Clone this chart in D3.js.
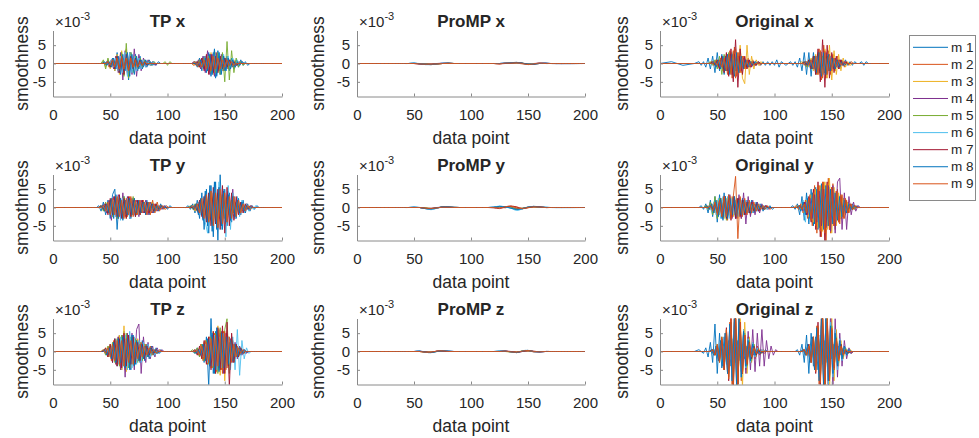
<!DOCTYPE html>
<html>
<head>
<meta charset="utf-8">
<script src="https://cdn.jsdelivr.net/npm/d3@7"></script>
<style>
  body { margin: 0; background: #fff; }
  svg text { font-family: "Liberation Sans", Arial, Helvetica, sans-serif; fill: #262626; }
</style>
</head>
<body>
<svg id="fig" width="979" height="438"></svg>
<script>
// Data point positions at which the TP / Original smoothness traces are sampled:
// m1, m3, m5, m7, m9 on even data points, m2, m4, m6, m8 on odd ones
const samplePtsEven = [0,10,20,30,34,
  36,38,40,42,44,46,48,50,52,54,56,58,60,62,64,66,68,70,72,74,76,78,80,82,84,86,88,90,92,94,96,98,100,102,104,106,
  110,114,
  116,118,120,122,124,126,128,130,132,134,136,138,140,142,144,146,148,150,152,154,156,158,160,162,164,166,168,170,172,174,176,178,180,182,184,186,
  192,200];
const samplePtsOdd = [0,11,21,31,35,
  37,39,41,43,45,47,49,51,53,55,57,59,61,63,65,67,69,71,73,75,77,79,81,83,85,87,89,91,93,95,97,99,101,103,105,107,
  111,115,
  117,119,121,123,125,127,129,131,133,135,137,139,141,143,145,147,149,151,153,155,157,159,161,163,165,167,169,171,173,175,177,179,181,183,185,187,
  193,200];
// Data point positions for the (smooth) ProMP traces
const promPts = [0,40,45,50,55,60,65,70,75,80,85,90,95,100,105,110,115,120,125,130,135,140,145,150,155,160,165,170,200];

const xTicks = [0, 50, 100, 150, 200];
const yTicks = [-5, 0, 5];
const seriesNames = ["m 1","m 2","m 3","m 4","m 5","m 6","m 7","m 8","m 9"];

// smoothness values, in units of 1e-3, one row per demonstration m1..m9
const tpX = [
  [0,0,0,0,0, 0,0,0,0,.5,-.5,1,-1,1.5,-2, 3,-2,2,-3,3.5,-4.5,3,-2,2.5,-2, 2,-1.5,1,-1,1,-.5,.5,-.5,.5,0, 0,0,0,0,0,0, 0,0, 0,0,0,0,.5,-1,1.5,-2,2,-2.5, 3,-3.5,3,-4,3.5,-3,2.5,-2,2,-2, 1.5,-1.5,1,-1,1,-.5,.5,-.5,0,0, 0,0,0,0,0,0, 0,0],
  [0,0,0,0,0, 0,0,0,0,0,.5,-1,1,-1.5,2, -2,2.5,-3,2,-2.5,3,-2,2,-1.5,1.5, -1,1,-.5,.5,-.5,.5,0,0,0,0, 0,0,0,0,0,0, 0,0, 0,0,0,-.5,.5,-1,1,-1.5,2,-2, 2.5,-2,3,-2.5,2,-2.5,2,-1.5,1.5,-1, 1,-1,.5,-.5,.5,0,0,0,0,0, 0,0,0,0,0,0, 0,0],
  [0,0,0,0,0, 0,0,0,0,.5,-1,1,-1.5,1,-2, 2.5,-3,3.5,-2.5,4,-3,2,-2,1.5,-1, 1,-1,.5,-.5,.5,0,0,0,0,0, 0,0,0,0,0,0, 0,0, 0,0,0,0,-.5,.5,-1,1.5,-1.5,2, -2.5,3,-3,3,-2.5,2,-2,1.5,-1.5,1, -1,1,-.5,.5,0,0,0,0,0,0, 0,0,0,0,0,0, 0,0],
  [0,0,0,0,0, 0,0,0,0,0,.5,-.5,1,-1.5,2, -2.5,3,-4.5,3.5,-3,2.5,-3,4,-3.5,2.5, -2,1.5,-1,1,-.5,.5,-.5,0,0,0, 0,0,0,0,0,0, 0,0, 0,0,0,.5,-.5,1,-1.5,2,-2.5,3.5, -3,2.5,-3.5,3,-2,2.5,-2,1.5,-1.5,1, -1,.5,-.5,.5,0,0,0,0,0,0, 0,0,0,0,0,0, 0,0],
  [0,0,0,0,0, 0,0,0,0,1,-1.5,1.5,-1,1,-1.5, 2,-2.5,3,-3.5,5.5,-4,3,-2.5,2,-1.5, 1.5,-1,1,-.5,.5,-.5,.5,0,0,0, 0,.5,-.5,.5,0,0, 0,0, 0,0,0,0,.5,-.5,1,-1,1.5,-1.5, 2,-2.5,2,-2.5,3,-3,3,-5,6,-4.5, 3.5,-2.5,1.5,-1,.5,-.5,0,0,0,0, 0,0,0,0,0,0, 0,0],
  [0,0,0,0,0, 0,0,0,0,0,.5,-.5,1,-1,1.5, -2,2,-2.5,3,-3.5,3,-2.5,2,-2,1.5, -1.5,1,-1,.5,-.5,.5,0,0,0,0, 0,0,0,0,0,0, 0,0, 0,0,0,0,.5,-.5,1,-1.5,2,-2, 2.5,-3,3.5,-3,3,-2.5,2.5,-2,2,-1.5, 1.5,-1,1,-.5,.5,0,0,0,0,0, 0,0,0,0,0,0, 0,0],
  [0,0,0,0,0, 0,0,0,0,0,0,.5,-1,1,-1.5, 2,-2.5,2,-3,2.5,-2,2,-1.5,1.5,-1, 1,-.5,.5,-.5,0,0,0,0,0,0, 0,0,0,0,0,0, 0,0, 0,0,0,0,0,.5,-1,1.5,-2,2.5, -3,2.5,-2.5,2,-2.5,2,-1.5,1.5,-1,1, -.5,.5,-.5,0,0,0,0,0,0,0, 0,0,0,0,0,0, 0,0],
  [0,0,0,0,0, 0,0,0,0,.5,-.5,.5,-1,1.5,-1.5, 2,-3,2.5,-2,3,-3.5,2.5,-3,2,-1.5, 1,-1,1,-.5,.5,-.5,0,0,0,0, 0,0,0,0,0,0, 0,0, 0,0,0,0,0,-.5,1,-1,1.5,-2, 2.5,-3,4,-3.5,3,-3,2,-2,1.5,-1.5, 1,-1,.5,-.5,.5,0,0,0,0,0, 0,0,0,0,0,0, 0,0],
  [0,0,0,0,0, 0,0,0,0,0,0,.5,-.5,1,-1, 1.5,-1.5,2,-1.5,1.5,-2,1.5,-1,1,-1, .5,-.5,.5,0,0,0,0,0,0,0, 0,0,0,0,0,0, 0,0, 0,0,0,0,.5,-.5,.5,-1,1,-1.5, 1.5,-2,2,-1.5,1.5,-1.5,1,-1,1,-.5, .5,-.5,0,0,0,0,0,0,0,0, 0,0,0,0,0,0, 0,0]
];

const tpY = [
  [0,0,0,0,0, 0,0,.5,-1,1.5,-2,2,-3,3.5,5, -6,3,-2.5,3,-2,2.5,-3,2,-2.5,2, -2,2,-1.5,2,-2,1.5,-1.5,1,-1,1, -.5,.5,-.5,.5,0,0, 0,0, 0,.5,-.5,1,-1.5,2,-3,4,-6,5, -7,6,-8,7,-9,9,-6,5,-5,4, -4,3,-3,2.5,-2,2,-1.5,1,-1,.5, -.5,.5,0,0,0,0, 0,0],
  [0,0,0,0,0, 0,0,0,.5,-1,1,-1.5,2,-2,2.5, -3,2.5,-3,2,-2.5,3,-2,2.5,-2,2, -1.5,2,-2,1.5,-2,2,-1.5,1.5,-1,.5, -.5,.5,0,0,0,0, 0,0, 0,0,.5,-.5,1,-1.5,2,-2.5,3,-3.5, 4,-4.5,5,-4,5.5,-5,4,-4.5,3.5,-3, 3,-2.5,2,-2,1.5,-1,1,-.5,.5,0, 0,0,0,0,0,0, 0,0],
  [0,0,0,0,0, 0,0,0,.5,-.5,1,-1.5,1.5,-2,2, -2.5,3,-2,2.5,-3,2,-2,2.5,-2,1.5, -2,1.5,-1.5,1,-1.5,1.5,-1,1,-.5,.5, 0,0,0,0,0,0, 0,0, 0,0,0,.5,-1,1,-1.5,2,-2.5,3, -3.5,4,-4,3.5,-4.5,4,-3.5,3,-3,2.5, -2,2,-1.5,1.5,-1,1,-.5,.5,0,0, 0,0,0,0,0,0, 0,0],
  [0,0,0,0,0, 0,0,0,0,1,-1.5,2,-3.5,3,-2.5, 3.5,-3,4,-2.5,3,-3,2.5,-2,2,-2.5, 2,-1.5,2,-2,1.5,-1.5,1,-1,.5,-.5, .5,0,0,0,0,0, 0,0, 0,0,0,-.5,1,-1.5,2,-3,3.5,-4, 4.5,-4,5,-5.5,4.5,-4,5,-4,4.5,-3.5, 5,-3,2.5,-2,1.5,-1.5,1,-.5,.5,0, 0,0,0,0,0,0, 0,0],
  [0,0,0,0,0, 0,0,0,.5,-1,1.5,-1.5,2,-2.5,3, -3,2.5,-2,3,-2.5,2,-2.5,3,-2,1.5, -1.5,1.5,-1,1.5,-1,1,-.5,.5,-.5,.5, 0,0,0,0,0,0, 0,0, 0,0,.5,-.5,1,-1,1.5,-2,2.5,-3, 3,-3.5,4,-3.5,4,-3,3.5,-3,2.5,-2, 2,-1.5,1.5,-1,1,-.5,.5,0,0,0, 0,0,0,0,0,0, 0,0],
  [0,0,0,0,0, 0,0,0,0,.5,-1,1.5,-2,2,-2.5, 3,-3.5,2.5,-2,2.5,-3,2,-2,1.5,-2, 1.5,-1,1.5,-1,1,-1,.5,-.5,.5,0, 0,0,0,0,0,0, 0,0, 0,0,0,.5,-.5,1.5,-2,3,-4,-7, 5,-4,6,-5,7,-6,5,-8,6,-6, 4,-3,3,-2.5,2,-1.5,1,-1,.5,-.5, .5,0,0,0,0,0, 0,0],
  [0,0,0,0,0, 0,0,0,.5,-.5,1,-2,2.5,-2,3, -2.5,3.5,-3,2.5,-3,3,-2.5,2,-2.5,2, -2,2,-1.5,1.5,-1.5,1,-1,1,-.5,.5, 0,0,0,0,0,0, 0,0, 0,0,0,0,.5,-1,2,-2.5,3,-4, 4,-5,5.5,-4.5,5,-6,6,-7,5.5,-5, 4,-3.5,3,-2,1.5,-1.5,1,-.5,.5,0, 0,0,0,0,0,0, 0,0],
  [0,0,0,0,0, 0,0,0,.5,-1,1,-1.5,2.5,-3,3.5, -3,2.5,-3.5,2,-2,2.5,-2,2.5,-1.5,2, -1.5,1.5,-2,1.5,-1,1,-1,.5,-.5,.5, 0,0,0,0,0,0, 0,0, 0,0,.5,-.5,1,-2,2.5,-3.5,4.5,-5, 6,-6.5,7,-6,5.5,-5,4.5,-4,3.5,-3.5, 3,-2.5,2,-1.5,1.5,-1,.5,-.5,0,0, 0,0,0,0,0,0, 0,0],
  [0,0,0,0,0, 0,0,0,0,.5,-1,1.5,-2,2.5,-2, 3,-2.5,2,-3,2.5,-2,3,-2.5,2,-2, 2,-1.5,1.5,-2,1.5,-1.5,1,-1,.5,-.5, .5,-.5,0,0,0,0, 0,0, 0,0,0,.5,-.5,1,-1.5,2.5,-3,3.5, -4,4.5,-5,4,-5.5,5,-4.5,4,-4,3, -3,3,-2.5,2,-1.5,1,-1,.5,-.5,0, 0,0,0,0,0,0, 0,0]
];

const tpZ = [
  [0,0,0,0,0, 0,0,0,0,0,.5,-1.5,2,-3,3.5, -4,4.5,-5,5.5,-4.5,4,-5,4.5,-3.5,3, -3,3,-2.5,2,-2,1.5,-1,1,-.5,.5, 0,0,0,0,0,0, 0,0, 0,0,0,0,-.5,1,-1.5,2,-3,4, -9.5,9.5,-6,5.5,-5,4.5,-4,3.5,-3,2.5, -2.5,2,-1.5,1,-1,.5,-.5,0,0,0, 0,0,0,0,0,0, 0,0],
  [0,0,0,0,0, 0,0,0,0,.5,-1,1.5,-2.5,3,-3.5, 4,-4.5,4,-5,4.5,-4,3.5,-4,3,-2.5, 2.5,-2,2,-1.5,1.5,-1,.5,-.5,.5,0, 0,0,0,0,0,0, 0,0, 0,0,0,0,.5,-1,2,-2.5,3,-3.5, 4,-4.5,5,-5.5,6,-5,5.5,-5,4,-3.5, 3,-2,1.5,-1,.5,-.5,0,0,0,0, 0,0,0,0,0,0, 0,0],
  [0,0,0,0,0, 0,0,0,0,0,1,-1.5,2,-2.5,3, -3.5,4.5,-5,7,-5.5,4,-4.5,3.5,-3,3.5, -2.5,2,-2,1.5,-1,1,-.5,.5,0,0, 0,0,0,0,0,0, 0,0, 0,0,0,0,.5,-.5,1,-2,2.5,-3, 4,-4.5,5.5,-6,7,-6.5,6,-8,5,-4, 3.5,-2.5,2,-1.5,1,-.5,0,0,0,0, 0,0,0,0,0,0, 0,0],
  [0,0,0,0,0, 0,0,0,0,.5,-.5,1,-2,2.5,-3.5, 4,-5,4.5,-7,5,-4.5,5,-5,6,7.5, -6,4,-3,2.5,-2,1.5,-1.5,1,-.5,.5, 0,0,0,0,0,0, 0,0, 0,0,0,0,0,.5,-1,1.5,-2.5,3, -4,4.5,-5,5,-4.5,5.5,-6,5,-4,3.5, -3,2.5,-2,1.5,-1,.5,-.5,0,0,0, 0,0,0,0,0,0, 0,0],
  [0,0,0,0,0, 0,0,0,0,.5,-1,1.5,-1.5,2.5,-3, 3.5,-4,4.5,-4,5,-4.5,4,-3.5,3.5,-3, 2.5,-2.5,2,-1.5,1,-1,.5,-.5,0,0, 0,0,0,0,0,0, 0,0, 0,0,0,.5,-.5,1,-1.5,2,-2.5,3, -3.5,4,-4.5,5,-6,6.5,-5,6,9,-6, 4,-3,2,-1.5,1,-.5,0,0,0,0, 0,0,0,0,0,0, 0,0],
  [0,0,0,0,0, 0,0,0,0,0,.5,-1,1.5,-2,3, -3.5,4,-4,4.5,-5,5.5,-4.5,4,-3.5,3, -3,2.5,-2,2,-1.5,1,-1,.5,-.5,0, 0,0,0,0,0,0, 0,0, 0,0,0,0,.5,-.5,1,-1.5,2,-3, 3.5,-4,4.5,-5,4,-4.5,5,-4.5,4,-5, 4,-5,6,-6.5,3,-2,1,-.5,0,0, 0,0,0,0,0,0, 0,0],
  [0,0,0,0,0, 0,0,0,0,0,1,-1.5,2,-3,3.5, -4,3.5,-4.5,5,-4,4.5,-3.5,4,-3,2.5, -2.5,2,-2,1.5,-1,1,-.5,.5,0,0, 0,0,0,0,0,0, 0,0, 0,0,0,0,.5,-1,1.5,-2,3,-3.5, 4,-5,5.5,-6,6.5,-5,7,-6,8,-9.5, 5,-3,2,-1.5,1,-.5,0,0,0,0, 0,0,0,0,0,0, 0,0],
  [0,0,0,0,0, 0,0,0,0,.5,-1,1,-2,2.5,-3, 3.5,-3,4,-4.5,3.5,-5,4.5,-4,3,-2.5, 2,-2,1.5,-1.5,1,-.5,.5,-.5,0,0, 0,0,0,0,0,0, 0,0, 0,0,0,0,-.5,.5,-1,2,-2.5,3.5, -4,5,-6,6.5,-5.5,5,-4.5,4,-3.5,3, -2.5,2,-1.5,1,-.5,.5,0,0,0,0, 0,0,0,0,0,0, 0,0],
  [0,0,0,0,0, 0,0,0,0,.5,-.5,1,-1.5,2,-2.5, 3,-3.5,3,-4,3.5,-3,3,-3.5,2.5,-2, 2,-1.5,1.5,-1,1,-.5,.5,-.5,0,0, 0,0,0,0,0,0, 0,0, 0,0,0,0,0,.5,-1,1.5,-2,2.5, -3,3.5,-4,4.5,-4,5,-6,5.5,-4.5,4, -3,2,-1.5,1,-.5,.5,0,0,0,0, 0,0,0,0,0,0, 0,0]
];

const origX = [
  [0,.5,-.5,0,.5, -.5,.5,-1,1.5,-1.5,2,-2.5,3,-2,2.5, -3,2,-2.5,2,-1.5,1,-1.5,1,-1,.5, -1,.5,-.5,.5,-.5,.5,-.5,.5,-.5,.5, -.5,.5,-.5,1,-1,.5, -.5,.5, -.5,.5,-1,1.5,-2,3,-3,3,-3.5,3, -3,2.5,-2,2,-2.5,2,-1.5,1.5,-1,1, -1,1,-.5,1,-.5,.5,-.5,.5,0,0, .5,-.5,.5,0,0,0, 0,0],
  [0,0,0,0,0, 0,0,0,0,.5,-.5,1,-1,1.5,-2, 2,-3,3.5,-4,4.5,-3.5,3,-2.5,2,-1.5, 1.5,-1,1,-.5,.5,-.5,0,0,0,0, 0,0,0,0,0,0, 0,0, 0,0,0,0,0,.5,-.5,1,-1.5,2, -3,4,-4.5,5,-4,3.5,-3,2.5,-2,2, -1.5,1,-1,.5,-.5,.5,0,0,0,0, 0,0,0,0,0,0, 0,0],
  [0,0,0,0,0, 0,0,0,0,0,.5,-.5,1,-1.5,1.5, -2,2.5,-3,3,-3.5,4,-3,5,-4,-5.5, 5,-3,2,-1.5,1,-.5,.5,0,0,0, 0,0,0,0,0,0, 0,0, 0,0,0,0,.5,-.5,.5,-1,1.5,-2, 2.5,-3,3.5,-3,4,-4,5,-4.5,3.5,-3, 2.5,-2,1.5,-1,.5,-.5,0,0,0,0, 0,0,0,0,0,0, 0,0],
  [0,0,0,0,0, 0,0,0,0,0,0,.5,-1,1,-1.5, 2,-2,2.5,-3,2.5,-2,2,-2,1.5,-1, 1,-1,.5,-.5,0,0,0,0,0,0, 0,0,0,0,0,0, 0,0, 0,0,0,0,0,-.5,.5,-1,1,-1.5, 2,-2.5,3,-2.5,3,-2,2,-1.5,1.5,-1, 1,-.5,.5,0,0,0,0,0,0,0, 0,0,0,0,0,0, 0,0],
  [0,0,0,0,0, 0,0,0,0,.5,-.5,1,-1.5,2,-3, 2.5,-2,3,-2.5,2,-2,1.5,-1.5,1,-1, .5,-.5,.5,0,0,0,0,0,0,0, 0,0,0,0,0,0, 0,0, 0,0,0,0,0,.5,-1,1,-1.5,2, -2.5,3,-2.5,2,-2.5,2,-2,1.5,-1,1, -.5,.5,0,0,0,0,0,0,0,0, 0,0,0,0,0,0, 0,0],
  [0,0,0,0,0, 0,0,0,0,0,.5,-.5,1,-1,1.5, -2,2.5,-2,3,-2.5,2,-2.5,1.5,-1.5,1, -1,.5,-.5,.5,0,0,0,0,0,0, 0,0,0,0,0,0, 0,0, 0,0,0,0,0,0,.5,-1,1,-1.5, 2,-2.5,3,-3,2.5,-2,2,-1.5,1,-1, .5,-.5,0,0,0,0,0,0,0,0, 0,0,0,0,0,0, 0,0],
  [0,0,0,0,0, 0,0,0,0,0,.5,-.5,1,-1.5,2, -2.5,3,-3.5,4,-5,6.5,-6.5,4,-3,2, -1.5,1,-1,.5,-.5,.5,0,0,0,0, 0,0,0,0,0,0, 0,0, 0,0,0,0,0,.5,-.5,1,-1.5,2, -3,4,-5,6.5,-6.5,5,-4,3,-2.5,2, -1.5,1,-.5,.5,0,0,0,0,0,0, 0,0,0,0,0,0, 0,0],
  [0,0,0,0,0, 0,0,0,0,0,.5,-1,1,-1.5,2, -2,2.5,-3,2.5,-3.5,3,-2.5,2,-1.5,1, -1,.5,-.5,.5,0,0,0,0,0,0, 0,0,0,0,0,0, 0,0, 0,0,0,0,0,.5,-.5,1,-1.5,2, -2.5,3,-3.5,3,-3,2.5,-2,1.5,-1.5,1, -1,.5,-.5,0,0,0,0,0,0,0, 0,0,0,0,0,0, 0,0],
  [0,0,0,0,0, 0,0,0,0,0,0,.5,-.5,1,-1, 1.5,-2,2.5,-3,3.5,-4,3,-2.5,2,-1.5, 1,-1,.5,-.5,0,0,0,0,0,0, 0,0,0,0,0,0, 0,0, 0,0,0,0,0,0,.5,-.5,1,-1.5, 2,-3,3.5,-4,3.5,-3,2.5,-2,1.5,-1, 1,-.5,.5,0,0,0,0,0,0,0, 0,0,0,0,0,0, 0,0]
];

const origY = [
  [0,0,0,0,0, .5,-.5,1,-1.5,2,-2.5,3,-4,3.5,-3, 4,-3,3.5,-2.5,3,-3,2.5,-2,2.5,-2, 2,-1.5,2,-1.5,1.5,-1,1,-1,.5,-.5, .5,-.5,0,0,0,0, 0,0, .5,-.5,1,-2,3,-3.5,4,-4.5,5,-5, 5.5,-6,5,-5.5,6,-5,5.5,-4.5,4,-4, 3.5,-3,2.5,-2,1.5,-1,1,-.5,.5,0, 0,0,0,0,0,0, 0,0],
  [0,0,0,0,0, 0,0,.5,-.5,1,-1,1.5,-2,2.5,-3, 3,-3.5,3,-2.5,3,-2,2.5,-3,2,-2, 1.5,-2,1.5,-1,1,-1,.5,-.5,.5,0, 0,0,0,0,0,0, 0,0, 0,.5,-.5,1,-1.5,2,-3,3.5,-5,6, -7,6,-8,7,-9.5,8,-7,6.5,-6,5, -4.5,3.5,-3,2,-1.5,1,-.5,.5,0,0, 0,0,0,0,0,0, 0,0],
  [0,0,0,0,0, 0,0,0,.5,-.5,1,-1.5,2,-2,2.5, -3,2.5,-2,3,-2.5,2,-3,2.5,-2,1.5, -1.5,1.5,-1,1,-1,.5,-.5,.5,0,0, 0,0,0,0,0,0, 0,0, 0,0,.5,-.5,1,-1.5,2,-2.5,3.5,-4, 5,-5.5,6,-6.5,7,-6,8,-7,5.5,-5, 4,-3,2.5,-2,1.5,-1,.5,-.5,0,0, 0,0,0,0,0,0, 0,0],
  [0,0,0,0,0, 0,0,0,0,.5,-1,1,-1.5,2,-2.5, 3,-2.5,3.5,-3,2.5,-3,3.5,-3,4,-4.5, 3,-2.5,2,-2,1.5,-1.5,1,-.5,.5,-.5, 0,0,0,0,0,0, 0,0, 0,0,0,.5,-1,1.5,-2,2.5,-3,3.5, -4,4.5,-5,5,-5.5,6,-6.5,6,-7,7, 8,-6,4,-6,3,-2,1.5,-1,.5,0, 0,0,0,0,0,0, 0,0],
  [0,0,0,0,0, 0,0,.5,-.5,1.5,-2,3,-3,2.5,-2, 3,-3.5,2.5,-2,2.5,-2,2,-2,1.5,-1.5, 1.5,-1,1,-1,.5,-.5,.5,-.5,0,0, 0,0,0,0,0,0, 0,0, 0,0,0,.5,-.5,1,-1.5,2,-2.5,3, -3.5,4,-4.5,4,-5,4.5,-4,4.5,-3.5,3, -2.5,2,-1.5,1.5,-1,.5,-.5,0,0,0, 0,0,0,0,0,0, 0,0],
  [0,0,0,0,0, 0,0,0,.5,-1,1.5,-2,2.5,-3,3, -2.5,3,-3,2.5,-2,2.5,-2.5,2,-2,2, -1.5,1.5,-1.5,1,-1,1,-.5,.5,-.5,0, 0,0,0,0,0,0, 0,0, 0,0,.5,-1,2,-4,3,-3.5,4,-4.5, 5,-5.5,5,-4.5,5,-4,4.5,-4,3.5,-3, 3,-2.5,2,-1.5,1,-.5,.5,0,0,0, 0,0,0,0,0,0, 0,0],
  [0,0,0,0,0, 0,0,0,0,.5,-.5,1,-1.5,2,-2.5, 3,-3,2.5,-3.5,3,-3,2.5,-2.5,2,-2, 1.5,-1.5,1.5,-1,1,-1,.5,-.5,.5,0, 0,0,0,0,0,0, 0,0, 0,0,0,.5,-.5,1.5,-2,3,-4,5, -6,7,-8,6.5,-10,7,-6,5.5,-5,4.5, -4,3,-2.5,2,-1.5,1,-.5,.5,0,0, 0,0,0,0,0,0, 0,0],
  [0,0,0,0,0, 0,0,.5,-.5,1,-1.5,2,-2.5,2.5,-3.5, 3,-3,2.5,-2,3,-2.5,2,-2,2,-1.5, 1.5,-1.5,1,-1,1,-.5,.5,-.5,0,0, 0,0,0,0,0,0, 0,0, 0,0,.5,-1,1.5,-2,2.5,-3,4,-4.5, 5,-5.5,6.5,-6,6,-5,5,-4.5,4,-3.5, 3,-2.5,2,-1.5,1,-.5,.5,0,0,0, 0,0,0,0,0,0, 0,0],
  [0,0,0,0,0, 0,0,0,0,.5,-1,1.5,-2,2,-2.5, 3,-2.5,3.5,-3,3,8.5,-8.5,3,-2.5,2.5, -2,2,-1.5,1.5,-1,1,-.5,.5,-.5,.5, -.5,0,0,0,0,0, 0,0, 0,0,0,.5,-.5,1,-1.5,2.5,-3.5,4, -5,6,-6.5,7,-7,6.5,-6,5.5,-5,4.5, -4,3.5,-3,2.5,-1.5,1,-.5,.5,0,0, 0,0,0,0,0,0, 0,0]
];

const origZ = [
  [0,0,0,0,.5, 0,-.5,1,-1.5,2.5,-3,7.5,-6,5,-4.5, 4,-3.5,3,-4,3.5,-3,3,-2.5,2,-2, 1.5,-1.5,1,-1,.5,-.5,.5,-.5,.5,0, 0,0,0,0,0,0, 0,0, 0,0,.5,-1,2,-3,4.5,-6,5,-4, 4,-5,4.5,-3.5,3,-3,2.5,-2,2,-1.5, 1.5,-1,1,-.5,.5,-.5,0,0,0,0, 0,0,0,0,0,0, 0,0],
  [0,0,0,0,0, 0,0,0,0,.5,-1,1.5,-2.5,3,-4, 5,-6,8,-10,12,-11,10,-8,6,-5, 4,-3,2.5,-2,1.5,-1,.5,-.5,0,0, 0,0,0,0,0,0, 0,0, 0,0,0,0,.5,-1,1.5,-2.5,3.5,-5, 7,-9,11,-12,10,-9,8,-7,5.5,-4, 3,-2,1.5,-1,.5,-.5,0,0,0,0, 0,0,0,0,0,0, 0,0],
  [0,0,0,0,0, 0,0,0,0,0,.5,-1,1.5,-2,3, -4,5,-6,7,-8,10,-11,12,-10,8, -6,4,-3,2,-1.5,1,-.5,.5,0,0, 0,0,0,0,0,0, 0,0, 0,0,0,0,0,.5,-1,2,-3,4, -5,6,-8,9,-10,11,-12,10,-8,6, -4,3,-2,1,-.5,.5,0,0,0,0, 0,0,0,0,0,0, 0,0],
  [0,0,0,0,0, 0,0,0,0,.5,-.5,1,-2,2.5,-3, 4,-5,6,-7,8,-7,6,-5.5,5,-6, 5.5,-5,6,-5.5,5,-4,6,-4,3,-2, 1.5,-1,.5,0,0,0, 0,0, 0,0,0,0,.5,-.5,1,-2,3,-4, 5,-6,7,-8,9,-10,11,-10,9,-7, 5,-4,3,-2,1,-.5,0,0,0,0, 0,0,0,0,0,0, 0,0],
  [0,0,0,0,0, 0,0,0,0,0,.5,-1,2,-3,4, -5,6,-7,8,-9,10,-9,7,-6,5, -4,3,-2.5,2,-1,.5,-.5,0,0,0, 0,0,0,0,0,0, 0,0, 0,0,0,0,0,.5,-1,1.5,-2.5,3.5, -5,6.5,-8,9.5,-10,9,-8,7,-5,4, -3,2,-1.5,1,-.5,0,0,0,0,0, 0,0,0,0,0,0, 0,0],
  [0,0,0,0,0, 0,0,0,0,.5,-1,1.5,-2,3,-4, 5,-6,7,-8,9,-9,8,-7,6,-4.5, 3.5,-3,2.5,-1.5,1,-.5,.5,0,0,0, 0,0,0,0,0,0, 0,0, 0,0,0,0,.5,-1,1.5,-2.5,3.5,-4.5, 6,-7,8,-9,10,-9,8,-7,6,-5, 3.5,-2.5,1.5,-1,.5,0,0,0,0,0, 0,0,0,0,0,0, 0,0],
  [0,0,0,0,0, 0,0,0,0,0,.5,-1,1.5,-2.5,3.5, -5,6.5,-8,9.5,-11,10,-9,8,-6,4.5, -3.5,2.5,-2,1.5,-1,.5,-.5,0,0,0, 0,0,0,0,0,0, 0,0, 0,0,0,0,0,.5,-1,2,-3,4, -6,8,-10,11,-9,8,-7,6,-4.5,3.5, -2.5,2,-1,.5,-.5,0,0,0,0,0, 0,0,0,0,0,0, 0,0],
  [0,0,0,0,0, 0,0,0,0,.5,-1,1.5,-2.5,3,-4, 5,-6,7.5,-8,9,-10,9,-7,5.5,-4, 3,-2.5,2,-1,.5,-.5,0,0,0,0, 0,0,0,0,0,0, 0,0, 0,0,0,0,.5,-1,2,-3,4,-5, 6.5,-8,9,-10,9,-8,7,-6,5,-4, 3,-2,1.5,-1,.5,0,0,0,0,0, 0,0,0,0,0,0, 0,0],
  [0,0,0,0,0, 0,0,0,0,0,.5,-1,2,-3,4, -5,6,-7.5,9,-10,11,-9,8,-6,4.5, -3.5,2.5,-1.5,1,-.5,.5,0,0,0,0, 0,0,0,0,0,0, 0,0, 0,0,0,0,0,.5,-1,1.5,-3,4, -5.5,7,-8.5,10,-11,10,-8,6.5,-5,3.5, -2.5,1.5,-1,.5,0,0,0,0,0,0, 0,0,0,0,0,0, 0,0]
];

const promX = [
  [0, 0,0,.1,-.1,-.3, -.3,-.1,.1,.1,0, 0,0,0,0,0, 0,0,0,.1,.2, .3,.1,-.3,-.1,.1, .1,0, 0],
  [0, 0,0,0,-.1,-.2, -.3,-.2,0,.1,0, 0,0,0,0,0, 0,0,-.1,.1,.2, .1,-.1,-.2,-.1,.1, 0,0, 0],
  [0, 0,0,0,0,-.1, -.2,-.1,0,.1,0, 0,0,0,0,0, 0,0,0,0,.1, .1,0,-.1,-.1,0, 0,0, 0],
  [0, 0,0,0,-.1,-.1, -.1,0,.1,0,0, 0,0,0,0,0, 0,0,0,.1,.1, .2,0,-.1,0,.1, 0,0, 0],
  [0, 0,0,0,0,-.1, -.2,-.1,0,0,0, 0,0,0,0,0, 0,0,0,0,.1, .2,.1,-.1,-.1,0, 0,0, 0],
  [0, 0,0,.1,0,-.2, -.3,-.1,.1,.1,0, 0,0,0,0,0, 0,0,0,.1,.2, .2,0,-.2,-.1,0, 0,0, 0],
  [0, 0,0,0,-.1,-.2, -.2,-.1,0,.1,0, 0,0,0,0,0, 0,0,-.1,0,.1, .2,.1,-.2,-.2,0, .1,0, 0],
  [0, 0,0,.1,-.1,-.2, -.3,-.1,0,.1,0, 0,0,0,0,0, 0,0,0,.1,.2, .3,.1,-.2,-.2,0, .1,0, 0],
  [0, 0,0,0,-.1,-.2, -.2,-.1,0,0,0, 0,0,0,0,0, 0,0,-.1,.1,.1, .2,0,-.3,-.1,.1, 0,0, 0]
];

const promY = [
  [0, 0,0,.1,0,-.3, -.5,-.2,.2,.2,.1, 0,0,0,0,0, 0,.1,.3,.2,-.1, -.6,-.4,.1,.3,.2, .1,0, 0],
  [0, 0,0,0,0,-.2, -.3,-.1,.1,.2,.1, 0,0,0,0,0, 0,0,.2,-.1,.3, .2,-.3,-.1,.2,.2, 0,0, 0],
  [0, 0,0,0,0,-.1, -.2,-.1,.1,.1,0, 0,0,0,0,0, 0,0,.1,0,.1, -.2,-.2,0,.1,.1, 0,0, 0],
  [0, 0,0,0,0,-.2, -.2,0,.1,.1,0, 0,0,0,0,0, 0,0,.1,.2,.1, -.3,-.2,.1,.2,.1, 0,0, 0],
  [0, 0,0,0,0,-.1, -.3,-.1,.1,.1,0, 0,0,0,0,0, 0,0,.2,.1,0, -.4,-.2,.1,.2,.1, 0,0, 0],
  [0, 0,0,.1,0,-.3, -.6,-.2,.1,.2,.1, 0,0,0,0,0, 0,.1,.4,.1,-.2, -.8,-.4,.1,.3,.2, .1,0, 0],
  [0, 0,0,0,0,-.2, -.3,-.1,.1,.1,0, 0,0,0,0,0, 0,-.1,-.3,.1,.4, .1,-.3,0,.2,.2, 0,0, 0],
  [0, 0,0,.1,0,-.3, -.4,-.1,.2,.2,0, 0,0,0,0,0, 0,.1,.3,.2,-.2, -.5,-.3,.1,.3,.1, 0,0, 0],
  [0, 0,0,0,0,-.2, -.3,-.1,.1,.1,0, 0,0,0,0,0, 0,0,-.2,.2,.4, -.1,-.3,0,.2,.1, 0,0, 0]
];

const promZ = [
  [0, 0,0,0,.1,-.2, -.3,.1,.2,.1,0, 0,0,0,0,0, 0,0,.1,.1,-.1, -.3,.2,.3,-.1,-.1, 0,0, 0],
  [0, 0,0,0,0,-.2, -.2,.1,.2,0,0, 0,0,0,0,0, 0,0,0,.1,-.1, -.2,.1,.2,-.1,0, 0,0, 0],
  [0, 0,0,0,0,-.1, -.1,0,.1,0,0, 0,0,0,0,0, 0,0,0,0,-.1, -.1,.1,.1,0,0, 0,0, 0],
  [0, 0,0,0,.1,-.1, -.2,0,.1,.1,0, 0,0,0,0,0, 0,0,0,.1,0, -.2,0,.2,0,-.1, 0,0, 0],
  [0, 0,0,0,0,-.1, -.2,0,.1,0,0, 0,0,0,0,0, 0,0,0,0,-.1, -.2,.1,.2,0,0, 0,0, 0],
  [0, 0,0,0,.1,-.2, -.3,0,.2,.1,0, 0,0,0,0,0, 0,0,.1,.1,-.1, -.3,.1,.3,0,-.1, 0,0, 0],
  [0, 0,0,0,0,-.1, -.2,.1,.1,0,0, 0,0,0,0,0, 0,0,0,.1,0, -.2,0,.2,.1,-.1, 0,0, 0],
  [0, 0,0,0,.1,-.2, -.3,0,.2,.1,0, 0,0,0,0,0, 0,0,.1,.1,-.1, -.3,.1,.3,0,-.1, 0,0, 0],
  [0, 0,0,0,0,-.2, -.2,.1,.2,0,0, 0,0,0,0,0, 0,0,0,.1,-.1, -.2,.1,.3,0,-.1, 0,0, 0]
];

// MATLAB default line colour order (cycles after 7)
const lineColors = ["#0072BD","#D95319","#EDB120","#7E2F8E","#77AC30","#4DBEEE","#A2142F","#0072BD","#D95319"];

const FONT = '"Liberation Sans", Arial, Helvetica, sans-serif';
const AXIS_GRAY = "#8a8a8a";
const colLeft = [53, 357, 660];
const colWidth = [229, 228, 229];
const rowTop = [30.5, 174.5, 318.5];
const plotH = 66;
const yLabelX = [22, 318, 622];

const panels = [
  { title: "TP x",       data: tpX,   row: 0, col: 0 },
  { title: "ProMP x",    data: promX, row: 0, col: 1, smooth: true },
  { title: "Original x", data: origX, row: 0, col: 2 },
  { title: "TP y",       data: tpY,   row: 1, col: 0 },
  { title: "ProMP y",    data: promY, row: 1, col: 1, smooth: true },
  { title: "Original y", data: origY, row: 1, col: 2 },
  { title: "TP z",       data: tpZ,   row: 2, col: 0 },
  { title: "ProMP z",    data: promZ, row: 2, col: 1, smooth: true },
  { title: "Original z", data: origZ, row: 2, col: 2 }
];

const svg = d3.select("#fig");
const defs = svg.append("defs");

function styleAxis(g) {
  g.attr("font-size", 15).attr("font-family", FONT).attr("color", "#262626");
  g.selectAll(".domain, .tick line").attr("stroke", AXIS_GRAY);
  g.selectAll(".tick text").attr("fill", "#262626");
}

panels.forEach((p, i) => {
  const x0 = colLeft[p.col], w = colWidth[p.col], y0 = rowTop[p.row];
  const x = d3.scaleLinear().domain([0, 200]).range([x0, x0 + w]);
  const y = d3.scaleLinear().domain([-9, 9]).range([y0 + plotH, y0]);

  defs.append("clipPath").attr("id", "clip" + i)
    .append("rect").attr("x", x0).attr("y", y0).attr("width", w).attr("height", plotH);

  const lines = svg.append("g").attr("clip-path", `url(#clip${i})`);
  p.data.forEach((s, k) => {
    const pts = p.smooth ? promPts : (k % 2 === 0 ? samplePtsEven : samplePtsOdd);
    const line = d3.line()
      .defined((d, j) => j < pts.length)
      .x((d, j) => x(pts[j]))
      .y(d => y(d))
      .curve(p.smooth ? d3.curveCatmullRom : d3.curveLinear);
    lines.append("path")
      .attr("d", line(s))
      .attr("fill", "none")
      .attr("stroke", lineColors[k])
      .attr("stroke-width", 0.9)
      .attr("stroke-linejoin", "round");
  });

  // x axis (ticks point inward)
  svg.append("g")
    .attr("transform", `translate(0,${y0 + plotH})`)
    .call(d3.axisBottom(x).tickValues(xTicks).tickFormat(d => String(d))
      .tickSizeInner(-3).tickSizeOuter(0).tickPadding(13))
    .call(styleAxis);

  // y axis
  svg.append("g")
    .attr("transform", `translate(${x0},0)`)
    .call(d3.axisLeft(y).tickValues(yTicks).tickFormat(d => String(d))
      .tickSizeInner(-3).tickSizeOuter(0).tickPadding(7))
    .call(styleAxis);

  // exponent label
  const ex = svg.append("text").attr("x", x0 + 2).attr("y", y0 - 4)
    .attr("font-size", 15);
  ex.append("tspan").text("×10");
  ex.append("tspan").attr("dy", -7).attr("font-size", 11).text("-3");

  // title
  svg.append("text")
    .attr("x", x0 + w / 2).attr("y", y0 - 4)
    .attr("text-anchor", "middle")
    .attr("font-size", 17).attr("font-weight", "bold")
    .text(p.title);

  // axis labels
  svg.append("text")
    .attr("transform", `translate(${yLabelX[p.col]},${y0 + plotH / 2}) rotate(-90)`)
    .attr("text-anchor", "middle").attr("dominant-baseline", "central")
    .attr("font-size", 17.5)
    .text("smoothness");

  svg.append("text")
    .attr("x", x0 + w / 2).attr("y", y0 + plotH + 47.5)
    .attr("text-anchor", "middle")
    .attr("font-size", 17.5)
    .text("data point");
});

// legend
const lg = svg.append("g");
lg.append("rect")
  .attr("x", 909.5).attr("y", 35.5).attr("width", 66).attr("height", 165)
  .attr("fill", "#fff").attr("stroke", AXIS_GRAY);
const rowY = d3.scaleLinear().domain([0, 8]).range([47.3, 183.8]);
seriesNames.forEach((name, k) => {
  const yy = rowY(k);
  lg.append("line").attr("x1", 913).attr("x2", 948).attr("y1", yy).attr("y2", yy)
    .attr("stroke", lineColors[k]).attr("stroke-width", 1);
  lg.append("text").attr("x", 951).attr("y", yy + 4.5).attr("font-size", 13.5).text(name);
});
</script>
</body>
</html>
